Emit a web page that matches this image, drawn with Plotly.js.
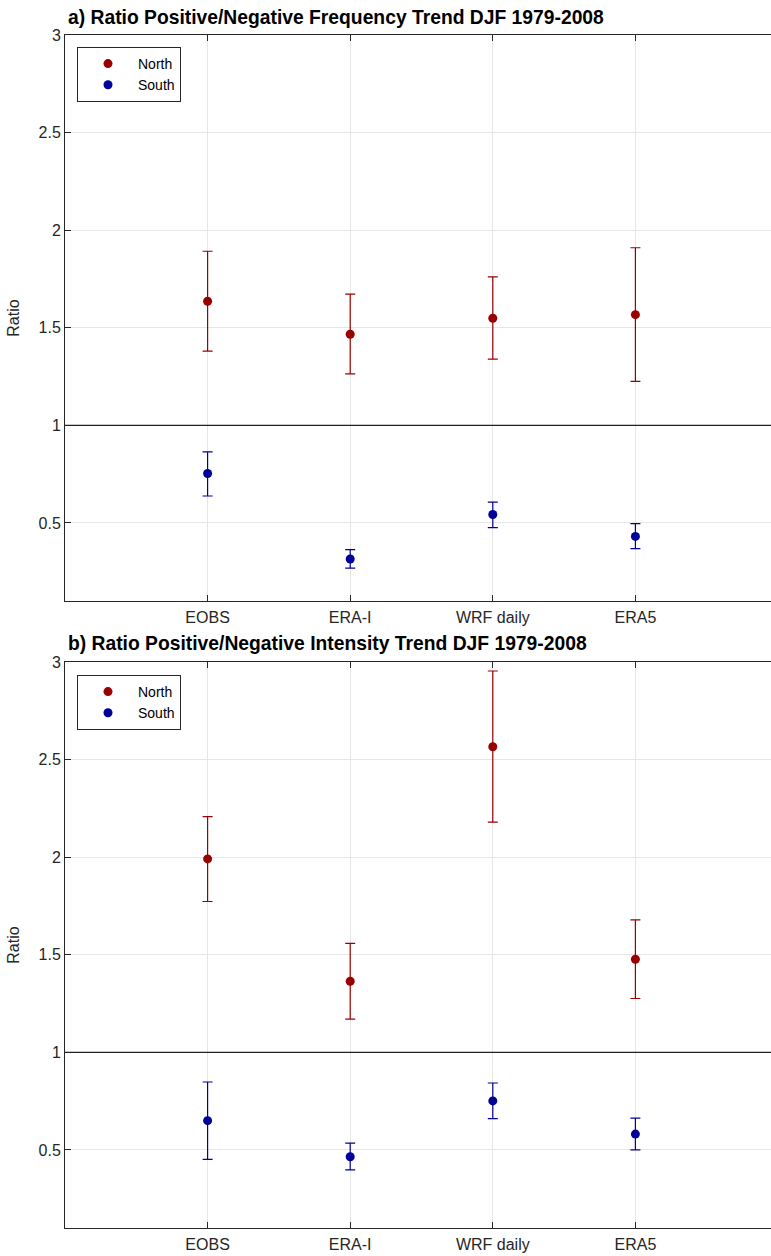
<!DOCTYPE html>
<html>
<head>
<meta charset="utf-8">
<script src="https://cdn.plot.ly/plotly-3.0.1.min.js"></script>
<style>
  html, body { margin: 0; padding: 0; background: #ffffff; overflow: hidden; }
  #chart { width: 778px; height: 1256px; }
</style>
</head>
<body>
<div id="chart"></div>
<script>
// Datasets on the x axis
const datasets = ['EOBS', 'ERA-I', 'WRF daily', 'ERA5'];
const xpos = [1, 2, 3, 4];

// a) Frequency trend ratio (positive/negative), DJF 1979-2008
const freqNorth      = [1.636, 1.467, 1.549, 1.567];
const freqNorthUpper = [1.892, 1.672, 1.761, 1.910];
const freqNorthLower = [1.380, 1.264, 1.339, 1.225];
const freqSouth      = [0.753, 0.315, 0.543, 0.431];
const freqSouthUpper = [0.864, 0.363, 0.607, 0.496];
const freqSouthLower = [0.638, 0.268, 0.476, 0.368];

// b) Intensity trend ratio (positive/negative), DJF 1979-2008
const intNorth      = [1.991, 1.364, 2.566, 1.477];
const intNorthUpper = [2.208, 1.558, 2.954, 1.679];
const intNorthLower = [1.773, 1.170, 2.180, 1.276];
const intSouth      = [0.650, 0.465, 0.751, 0.581];
const intSouthUpper = [0.848, 0.535, 0.843, 0.663];
const intSouthLower = [0.452, 0.398, 0.660, 0.500];

const yTicks = [0.5, 1, 1.5, 2, 2.5, 3];
const yTickText = ['0.5', '1', '1.5', '2', '2.5', '3'];

const RED = '#990000';
const BLUE = '#000099';
const FONT = 'Liberation Sans, Arial, Helvetica, sans-serif';
const H = 1256;

function series(name, vals, upper, lower, color, xa, ya, legend) {
  return {
    type: 'scatter', mode: 'markers', name: name,
    x: xpos, y: vals, xaxis: xa, yaxis: ya, legend: legend,
    marker: { size: 9, color: color },
    error_y: {
      type: 'data', symmetric: false, visible: true,
      array: upper.map((u, i) => u - vals[i]),
      arrayminus: lower.map((l, i) => vals[i] - l),
      color: color, thickness: 1.2, width: 5
    },
    hoverinfo: 'x+y'
  };
}

const traces = [
  series('North', freqNorth, freqNorthUpper, freqNorthLower, RED, 'x', 'y', 'legend'),
  series('South', freqSouth, freqSouthUpper, freqSouthLower, BLUE, 'x', 'y', 'legend'),
  series('North', intNorth, intNorthUpper, intNorthLower, RED, 'x2', 'y2', 'legend2'),
  series('South', intSouth, intSouthUpper, intSouthLower, BLUE, 'x2', 'y2', 'legend2')
];

function xAxis(anchor) {
  return {
    anchor: anchor, domain: [0, 1], range: [0, 5],
    tickmode: 'array', tickvals: xpos, ticktext: datasets,
    ticks: 'inside', ticklen: 6, tickcolor: '#262626',
    showline: true, linecolor: '#262626', linewidth: 1, mirror: 'ticks',
    showgrid: true, gridcolor: '#e6e6e6', zeroline: false,
    ticklabelstandoff: 2,
    tickfont: { family: FONT, size: 16, color: '#262626' }
  };
}
function yAxis(anchor, top, bottom) {
  return {
    anchor: anchor, domain: [1 - bottom / H, 1 - top / H], range: [0.1, 3],
    tickmode: 'array', tickvals: yTicks, ticktext: yTickText,
    ticks: 'inside', ticklen: 6, tickcolor: '#262626',
    showline: true, linecolor: '#262626', linewidth: 1, mirror: 'ticks',
    showgrid: true, gridcolor: '#e6e6e6', zeroline: false,
    tickfont: { family: FONT, size: 16, color: '#262626' },
    title: { text: 'Ratio', font: { family: FONT, size: 16, color: '#262626' }, standoff: 14 }
  };
}

function legendAt(topPx) {
  return {
    x: 12 / 713, y: 1 - topPx / H, xanchor: 'left', yanchor: 'top',
    bgcolor: '#ffffff', bordercolor: '#262626', borderwidth: 1,
    font: { family: FONT, size: 14, color: '#000000' },
    itemwidth: 50, tracegroupgap: 0
  };
}

const layout = {
  width: 778, height: H,
  margin: { l: 65, r: 0, t: 0, b: 0 },
  paper_bgcolor: '#ffffff', plot_bgcolor: '#ffffff',
  showlegend: true,
  xaxis: xAxis('y'),
  yaxis: yAxis('x', 35, 601),
  xaxis2: xAxis('y2'),
  yaxis2: yAxis('x2', 662, 1228),
  legend: legendAt(47),
  legend2: legendAt(675),
  shapes: [
    { type: 'line', xref: 'x domain', yref: 'y', x0: 0, x1: 1, y0: 1, y1: 1,
      line: { color: '#222222', width: 1.2 } },
    { type: 'line', xref: 'x2 domain', yref: 'y2', x0: 0, x1: 1, y0: 1, y1: 1,
      line: { color: '#222222', width: 1.2 } }
  ],
  annotations: [
    { text: '<b>a) Ratio Positive/Negative Frequency Trend DJF 1979-2008</b>',
      xref: 'paper', yref: 'paper', x: 1 / 713, y: 1 - 17 / H,
      xanchor: 'left', yanchor: 'middle', showarrow: false,
      font: { family: FONT, size: 19.3, color: '#000000' } },
    { text: '<b>b) Ratio Positive/Negative Intensity Trend DJF 1979-2008</b>',
      xref: 'paper', yref: 'paper', x: 1 / 713, y: 1 - 643 / H,
      xanchor: 'left', yanchor: 'middle', showarrow: false,
      font: { family: FONT, size: 19.3, color: '#000000' } }
  ]
};

Plotly.newPlot('chart', traces, layout, { displayModeBar: false, staticPlot: true });
</script>
</body>
</html>
